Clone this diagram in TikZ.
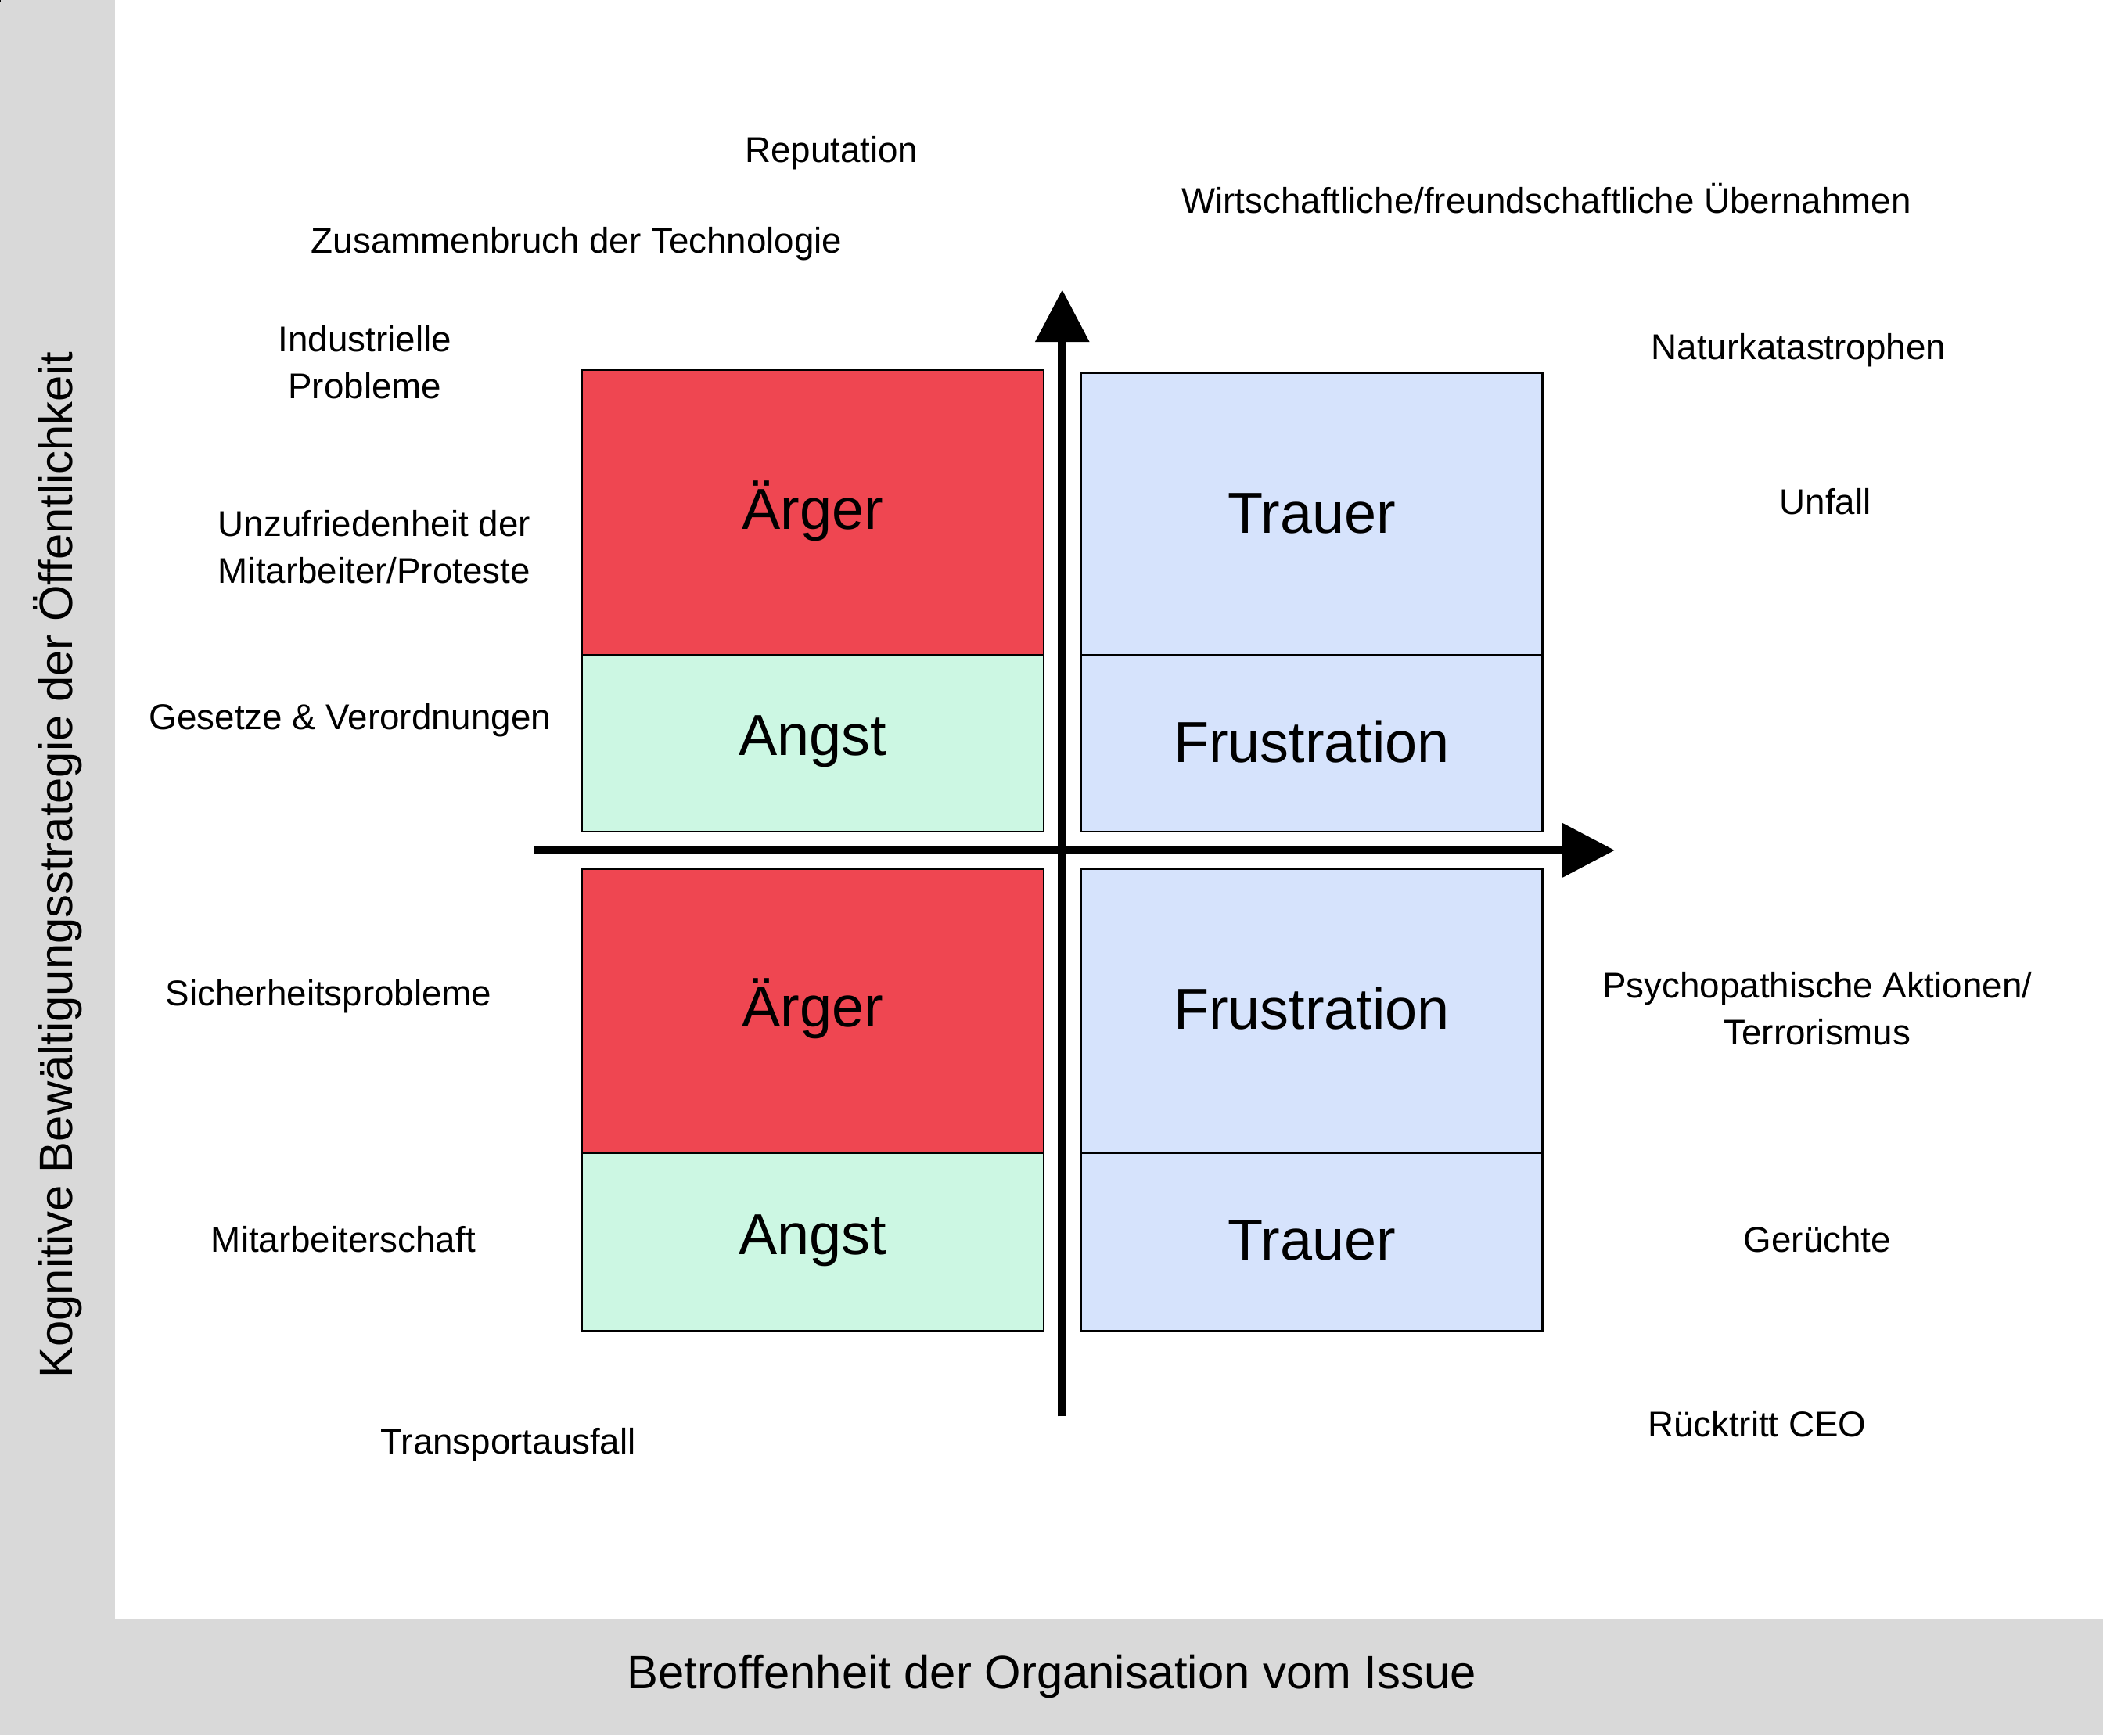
\documentclass[tikz,border=0pt]{standalone}
\usepackage{fontspec}
\setmainfont{Liberation Sans}
\usetikzlibrary{arrows.meta}
\definecolor{band}{HTML}{D9D9D9}
\definecolor{redq}{HTML}{EF4651}
\definecolor{greenq}{HTML}{CCF7E3}
\definecolor{blueq}{HTML}{D6E3FC}
\begin{document}
\begin{tikzpicture}[x=0.01714cm,y=-0.01714cm,
  lab/.style={font=\fontsize{13}{17}\selectfont,align=center},
  big/.style={font=\fontsize{21}{25}\selectfont},
  box/.style={draw=black,line width=0.6pt},
  axis/.style={line width=3pt,-{Triangle[length=19pt,width=19pt]}}]
\useasboundingbox (0,0) rectangle (1568,1294);
\fill[band] (0,0) rectangle (86,1294);
\fill[band] (0,1207) rectangle (1568,1294);
% boxes
\node[box,fill=redq,minimum width=0,inner sep=0] (r1) at (0,0) {};
\draw[box,fill=redq] (434,276) rectangle (778,488);
\draw[box,fill=greenq] (434,488) rectangle (778,620);
\draw[box,fill=blueq] (806,278) rectangle (1150,488);
\draw[box,fill=blueq] (806,488) rectangle (1150,620);
\draw[box,fill=redq] (434,648) rectangle (778,860);
\draw[box,fill=greenq] (434,860) rectangle (778,992);
\draw[box,fill=blueq] (806,648) rectangle (1150,860);
\draw[box,fill=blueq] (806,860) rectangle (1150,992);
\node[big] (b1) at (606,381) {Ärger};
\node[big] (b2) at (978,383) {Trauer};
\node[big] (b3) at (606,553) {Angst};
\node[big] (b4) at (978,553) {Frustration};
\node[big] (b5) at (606,752) {Ärger};
\node[big] (b6) at (978,752) {Frustration};
\node[big] (b7) at (606,925) {Angst};
\node[big] (b8) at (978,925) {Trauer};
% axes
\coordinate (vb) at (792,1056);
\coordinate (vt) at (792,216);
\coordinate (hl) at (398,634);
\coordinate (hr) at (1204,634);
\draw[axis] (vb) -- (vt);
\draw[axis] (hl) -- (hr);
% labels
\node[lab] (l1) at (620,114) {Reputation};
\node[lab] (l2) at (1153,148) {Wirtschaftliche/freundschaftliche Übernahmen};
\node[lab] (l3) at (430,182) {Zusammenbruch der Technologie};
\node[lab] (l4) at (272,270) {Industrielle\\Probleme};
\node[lab] (l5) at (1341,261) {Naturkatastrophen};
\node[lab] (l6) at (1361,374) {Unfall};
\node[lab] (l7) at (279,408) {Unzufriedenheit der\\Mitarbeiter/Proteste};
\node[lab] (l8) at (261,537) {Gesetze \& Verordnungen};
\node[lab] (l9) at (245,743) {Sicherheitsprobleme};
\node[lab] (l10) at (1355,752) {Psychopathische Aktionen/\\Terrorismus};
\node[lab] (l11) at (256,924) {Mitarbeiterschaft};
\node[lab] (l12) at (1355,924) {Gerüchte};
\node[lab] (l13) at (1310,1062) {Rücktritt CEO};
\node[lab] (l14) at (379,1077) {Transportausfall};
\node[font=\fontsize{17}{20}\selectfont,rotate=90] (ya) at (43,645) {Kognitive Bewältigungsstrategie der Öffentlichkeit};
\node[font=\fontsize{17}{20}\selectfont] (xa) at (784,1250) {Betroffenheit der Organisation vom Issue};
\end{tikzpicture}
\end{document}
